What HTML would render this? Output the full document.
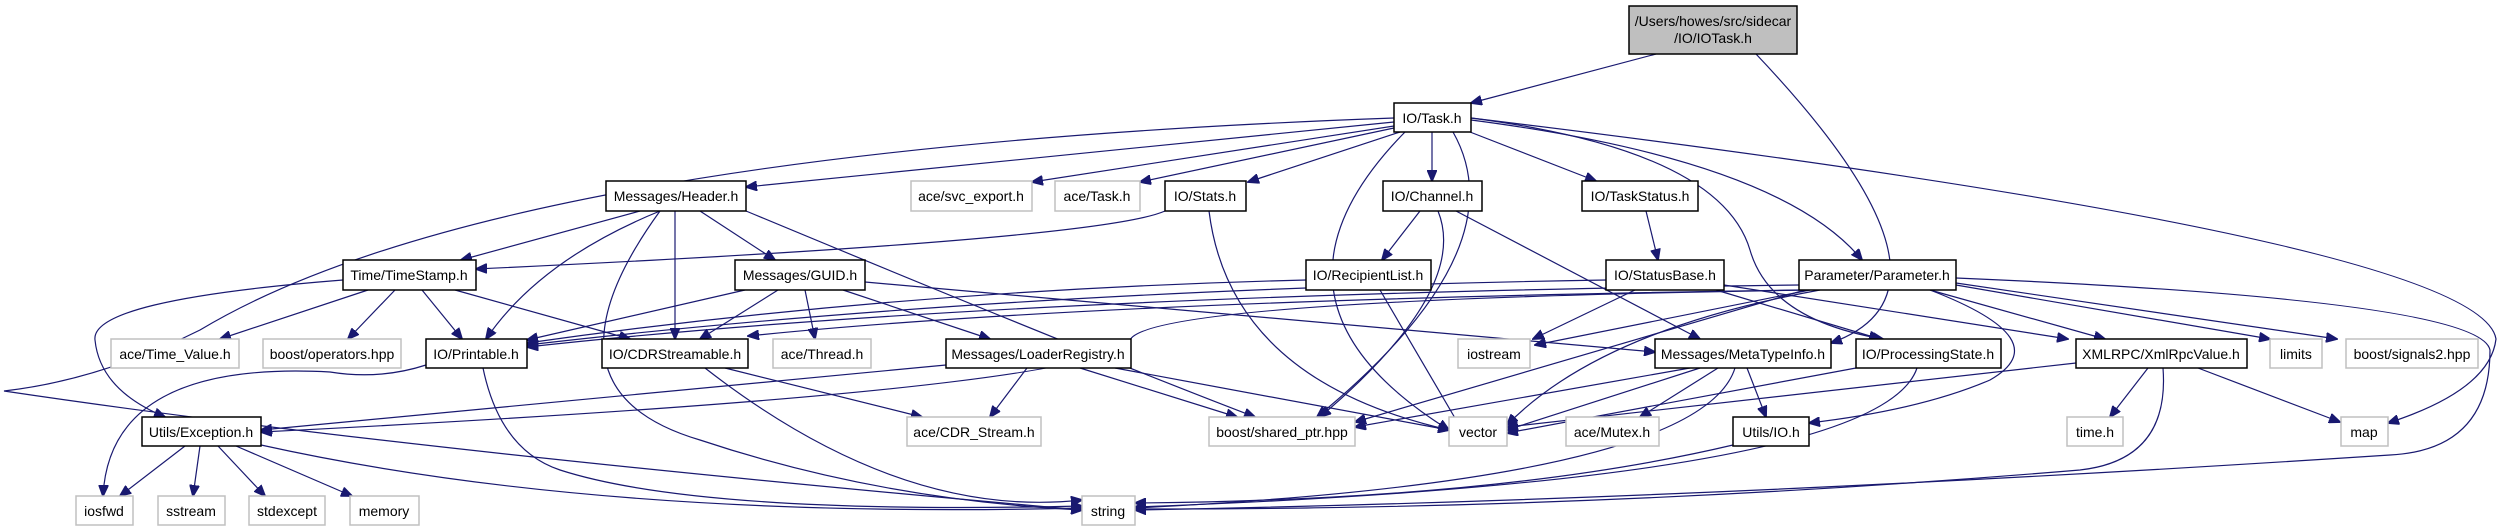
<!DOCTYPE html>
<html><head><meta charset="utf-8"><style>
html,body{margin:0;padding:0;background:#fff;}
svg{display:block}
text{font-family:"Liberation Sans",sans-serif;font-size:14px;fill:#000}
.e{fill:none;stroke:#191970;stroke-width:1.2}
.n{fill:#fff;stroke:#000;stroke-width:1.5}
.x{fill:#fff;stroke:#c0c0c0;stroke-width:1.5}
</style></head><body>
<svg width="2503" height="531" viewBox="0 0 2503 531" xmlns="http://www.w3.org/2000/svg">
<defs><marker id="a" markerUnits="userSpaceOnUse" markerWidth="12" markerHeight="10" refX="11" refY="5" orient="auto"><path d="M0,0 L12,5 L0,10 z" fill="#191970" stroke="#191970"/></marker></defs>
<g marker-end="url(#a)">
<path class="e" d="M1656,54 L1471,103"/>
<path class="e" d="M1756,54 Q1980,290 1831,343"/>
<path class="e" d="M1394,122 L746,187"/>
<path class="e" d="M1394,126 L1032,182"/>
<path class="e" d="M1394,128 L1140,182"/>
<path class="e" d="M1400,132 L1248,182"/>
<path class="e" d="M1432,132 L1432,181"/>
<path class="e" d="M1470,132 L1596,181"/>
<path class="e" d="M1471,120 Q1780,160 1862,260"/>
<path class="e" d="M1471,118 Q1720,150 1750,250 Q1770,320 1883,339"/>
<path class="e" d="M1405,132 Q1240,300 1449,430"/>
<path class="e" d="M1453,132 Q1520,250 1317,417"/>
<path class="e" d="M1471,118 Q2480,240 2496,339 Q2490,390 2388,423"/>
<path class="e" d="M1394,118 Q500,150 200,330 Q100,380 4,391 Q400,450 1082,510"/>
<path class="e" d="M640,211 L461,260"/>
<path class="e" d="M660,211 Q540,260 486,339"/>
<path class="e" d="M675,211 L675,339"/>
<path class="e" d="M700,211 L775,260"/>
<path class="e" d="M660,211 Q530,390 700,440 Q880,500 1082,510"/>
<path class="e" d="M746,211 Q1080,350 1255,417"/>
<path class="e" d="M1165,211 Q1100,240 476,269"/>
<path class="e" d="M1209,211 Q1230,380 1449,430"/>
<path class="e" d="M368,290 L220,339"/>
<path class="e" d="M395,290 L348,339"/>
<path class="e" d="M422,290 L462,339"/>
<path class="e" d="M455,290 L630,339"/>
<path class="e" d="M343,280 Q90,300 95,340 Q100,390 165,417"/>
<path class="e" d="M745,290 L527,340"/>
<path class="e" d="M778,290 L700,339"/>
<path class="e" d="M805,290 L815,339"/>
<path class="e" d="M843,290 L990,339"/>
<path class="e" d="M865,282 L1655,352"/>
<path class="e" d="M426,365 Q380,380 330,372 Q110,360 103,496"/>
<path class="e" d="M483,368 Q500,450 560,470 Q700,515 1082,506"/>
<path class="e" d="M725,368 L922,417"/>
<path class="e" d="M705,368 Q900,520 1082,500"/>
<path class="e" d="M946,365 L261,430"/>
<path class="e" d="M1027,368 L990,417"/>
<path class="e" d="M1080,368 L1237,417"/>
<path class="e" d="M1115,368 L1449,430"/>
<path class="e" d="M185,446 L120,496"/>
<path class="e" d="M200,446 L193,496"/>
<path class="e" d="M218,446 L265,496"/>
<path class="e" d="M236,446 L352,496"/>
<path class="e" d="M261,445 Q600,520 1082,508"/>
<path class="e" d="M1420,211 L1382,260"/>
<path class="e" d="M1438,211 Q1470,290 1320,417"/>
<path class="e" d="M1456,211 L1700,339"/>
<path class="e" d="M1646,211 L1658,260"/>
<path class="e" d="M1306,280 Q900,290 527,343"/>
<path class="e" d="M1380,290 L1462,430"/>
<path class="e" d="M1606,280 Q1000,290 527,345"/>
<path class="e" d="M1635,290 L1533,339"/>
<path class="e" d="M1716,290 L1880,339"/>
<path class="e" d="M1724,285 L2068,339"/>
<path class="e" d="M1799,285 Q1000,295 527,347"/>
<path class="e" d="M1799,290 Q1100,300 748,336"/>
<path class="e" d="M1810,290 Q1150,300 1130,340 Q1100,390 261,432"/>
<path class="e" d="M1810,290 L1535,345"/>
<path class="e" d="M1805,290 Q1600,350 1355,422"/>
<path class="e" d="M1820,290 Q1600,330 1507,425"/>
<path class="e" d="M1930,290 Q2060,340 1990,380 Q1920,410 1809,423"/>
<path class="e" d="M1930,290 L2105,339"/>
<path class="e" d="M1956,285 L2270,339"/>
<path class="e" d="M1956,283 L2337,339"/>
<path class="e" d="M1956,278 Q2480,300 2490,350 Q2490,450 2390,455 Q1700,500 1135,510"/>
<path class="e" d="M1690,368 L1355,427"/>
<path class="e" d="M1700,368 L1507,430"/>
<path class="e" d="M1718,368 L1640,417"/>
<path class="e" d="M1747,368 L1766,417"/>
<path class="e" d="M1735,368 Q1700,480 1135,508"/>
<path class="e" d="M1856,368 L1507,433"/>
<path class="e" d="M1917,368 Q1880,480 1135,507"/>
<path class="e" d="M2076,363 L1507,427"/>
<path class="e" d="M2148,368 L2110,417"/>
<path class="e" d="M2198,368 L2340,422"/>
<path class="e" d="M2163,368 Q2170,460 2080,470 Q1600,510 1135,509"/>
<path class="e" d="M1733,445 Q1500,500 1135,503"/>
</g>
<g text-anchor="middle">
<rect x="1629" y="6" width="168" height="48" fill="#bfbfbf" stroke="#000" stroke-width="1.5"/>
<text x="1713" y="26">/Users/howes/src/sidecar</text><text x="1713" y="43">/IO/IOTask.h</text>
<rect class="n" x="1394" y="103" width="77" height="29"/><text x="1432" y="123">IO/Task.h</text>
<rect class="n" x="606" y="181" width="140" height="30"/><text x="676" y="201">Messages/Header.h</text>
<rect class="x" x="911" y="181" width="121" height="30"/><text x="971" y="201">ace/svc_export.h</text>
<rect class="x" x="1055" y="181" width="85" height="30"/><text x="1097" y="201">ace/Task.h</text>
<rect class="n" x="1165" y="181" width="81" height="30"/><text x="1205" y="201">IO/Stats.h</text>
<rect class="n" x="1383" y="181" width="99" height="30"/><text x="1432" y="201">IO/Channel.h</text>
<rect class="n" x="1582" y="181" width="116" height="30"/><text x="1640" y="201">IO/TaskStatus.h</text>
<rect class="n" x="343" y="260" width="133" height="30"/><text x="409" y="280">Time/TimeStamp.h</text>
<rect class="n" x="735" y="260" width="130" height="30"/><text x="800" y="280">Messages/GUID.h</text>
<rect class="n" x="1306" y="260" width="125" height="30"/><text x="1368" y="280">IO/RecipientList.h</text>
<rect class="n" x="1606" y="260" width="118" height="30"/><text x="1665" y="280">IO/StatusBase.h</text>
<rect class="n" x="1799" y="260" width="157" height="30"/><text x="1877" y="280">Parameter/Parameter.h</text>
<rect class="x" x="111" y="339" width="128" height="29"/><text x="175" y="359">ace/Time_Value.h</text>
<rect class="x" x="263" y="339" width="138" height="29"/><text x="332" y="359">boost/operators.hpp</text>
<rect class="n" x="426" y="339" width="101" height="29"/><text x="476" y="359">IO/Printable.h</text>
<rect class="n" x="602" y="339" width="146" height="29"/><text x="675" y="359">IO/CDRStreamable.h</text>
<rect class="x" x="773" y="339" width="98" height="29"/><text x="822" y="359">ace/Thread.h</text>
<rect class="n" x="946" y="339" width="185" height="29"/><text x="1038" y="359">Messages/LoaderRegistry.h</text>
<rect class="x" x="1458" y="339" width="72" height="29"/><text x="1494" y="359">iostream</text>
<rect class="n" x="1655" y="339" width="176" height="29"/><text x="1743" y="359">Messages/MetaTypeInfo.h</text>
<rect class="n" x="1856" y="339" width="145" height="29"/><text x="1928" y="359">IO/ProcessingState.h</text>
<rect class="n" x="2076" y="339" width="171" height="29"/><text x="2161" y="359">XMLRPC/XmlRpcValue.h</text>
<rect class="x" x="2270" y="339" width="52" height="29"/><text x="2296" y="359">limits</text>
<rect class="x" x="2346" y="339" width="132" height="29"/><text x="2412" y="359">boost/signals2.hpp</text>
<rect class="n" x="142" y="417" width="119" height="29"/><text x="201" y="437">Utils/Exception.h</text>
<rect class="x" x="907" y="417" width="134" height="29"/><text x="974" y="437">ace/CDR_Stream.h</text>
<rect class="x" x="1209" y="417" width="146" height="29"/><text x="1282" y="437">boost/shared_ptr.hpp</text>
<rect class="x" x="1449" y="417" width="58" height="29"/><text x="1478" y="437">vector</text>
<rect class="x" x="1566" y="417" width="93" height="29"/><text x="1612" y="437">ace/Mutex.h</text>
<rect class="n" x="1733" y="417" width="76" height="29"/><text x="1771" y="437">Utils/IO.h</text>
<rect class="x" x="2067" y="417" width="56" height="29"/><text x="2095" y="437">time.h</text>
<rect class="x" x="2341" y="417" width="47" height="29"/><text x="2364" y="437">map</text>
<rect class="x" x="76" y="496" width="57" height="29"/><text x="104" y="516">iosfwd</text>
<rect class="x" x="158" y="496" width="67" height="29"/><text x="191" y="516">sstream</text>
<rect class="x" x="249" y="496" width="76" height="29"/><text x="287" y="516">stdexcept</text>
<rect class="x" x="350" y="496" width="69" height="29"/><text x="384" y="516">memory</text>
<rect class="x" x="1082" y="496" width="53" height="29"/><text x="1108" y="516">string</text>
</g>
</svg>
</body></html>
